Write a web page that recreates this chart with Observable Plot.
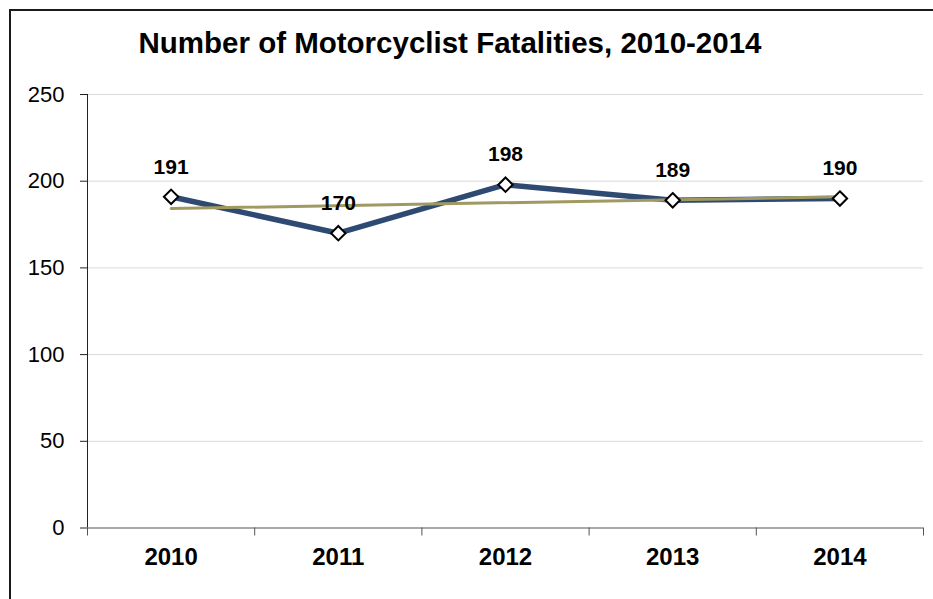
<!DOCTYPE html>
<html>
<head>
<meta charset="utf-8">
<script src="https://cdn.jsdelivr.net/npm/d3@7"></script>
<script src="https://cdn.jsdelivr.net/npm/@observablehq/plot@0.6"></script>
<style>
  html, body { margin: 0; padding: 0; background: #fff; }
  #wrap { position: relative; width: 933px; height: 599px; overflow: hidden; background: #fff; font-family: "Liberation Sans", Arial, sans-serif; }
  #border { position: absolute; left: 9px; top: 9px; width: 1200px; height: 900px; border-left: 2.5px solid #1a1a1a; border-top: 2.5px solid #1a1a1a; }
  #title { position: absolute; left: 0; width: 900px; top: 27px; text-align: center; font-size: 29.5px; font-weight: bold; color: #000; line-height: 32px; white-space: nowrap; }
  #chart { position: absolute; left: 0; top: 0; }
</style>
</head>
<body>
<div id="wrap">
  <div id="border"></div>
  <div id="chart"></div>
  <div id="title">Number of Motorcyclist Fatalities, 2010-2014</div>
</div>
<script>
const years = [2010, 2011, 2012, 2013, 2014];
const fatalities = [191, 170, 198, 189, 190];
const yTicks = [0, 50, 100, 150, 200, 250];

const data = years.map((year, i) => ({year, value: fatalities[i]}));
const bandEdges = [...years.map(y => y - 0.5), years[years.length - 1] + 0.5];

const chart = Plot.plot({
  width: 933,
  height: 599,
  marginLeft: 87,
  marginRight: 10,
  marginTop: 94,
  marginBottom: 71.5,
  style: {fontFamily: "'Liberation Sans', Arial, sans-serif", background: "transparent", color: "#000"},
  x: {type: "linear", domain: [years[0] - 0.5, years[years.length - 1] + 0.5]},
  y: {domain: [0, 250]},
  marks: [
    Plot.gridY(yTicks.filter(d => d > 0), {stroke: "#d9d9d9", strokeOpacity: 1, strokeWidth: 1}),
    Plot.axisY({ticks: yTicks, tickSize: 7, tickPadding: 16, fontSize: 22, stroke: "#222", label: null, tickFormat: d => d}),
    Plot.ruleX([years[0] - 0.5], {stroke: "#222"}),
    Plot.ruleY([0], {stroke: "#555"}),
    Plot.axisX({ticks: bandEdges, tickSize: 8, tickFormat: () => "", stroke: "#555", label: null}),
    Plot.axisX({ticks: years, tickSize: 0, tickPadding: 19.5, fontSize: 24, fontWeight: "bold", label: null, tickFormat: d => String(d)}),
    Plot.line(data, {x: "year", y: "value", stroke: "#2e4a72", strokeWidth: 5.5, strokeLinejoin: "miter"}),
    Plot.linearRegressionY(data, {x: "year", y: "value", ci: 0, stroke: "#a09a62", strokeWidth: 3}),
    Plot.dot(data, {x: "year", y: "value", symbol: "diamond2", r: 6.5, fill: "#fff", stroke: "#000", strokeWidth: 2}),
    Plot.text(data, {x: "year", y: "value", text: d => String(d.value), dy: -30, fontSize: 21, fontWeight: "bold", fill: "#000"})
  ]
});
document.getElementById("chart").appendChild(chart);
</script>
</body>
</html>
